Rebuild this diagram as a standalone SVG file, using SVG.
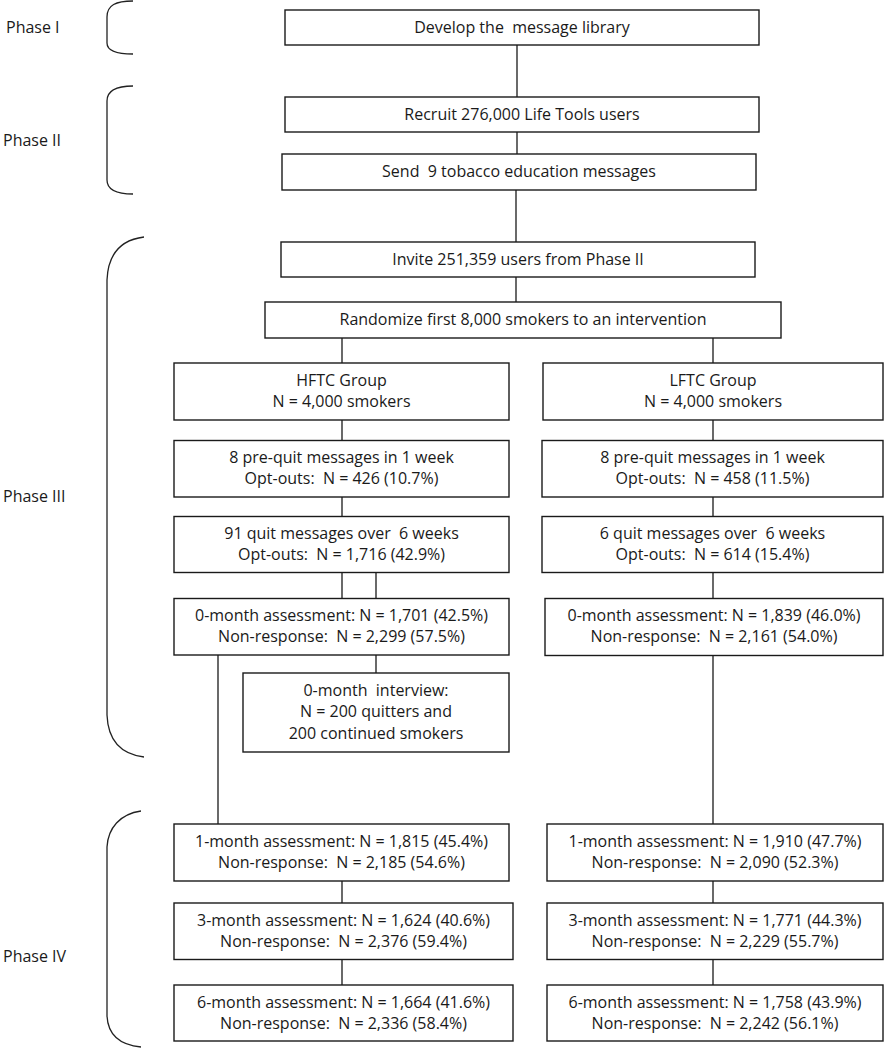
<svg xmlns="http://www.w3.org/2000/svg" width="884" height="1050" viewBox="0 0 884 1050">
<style>
.box{fill:#fff;stroke:#1a1a1a;stroke-width:1.4}
.ln{stroke:#1a1a1a;stroke-width:1.3;fill:none}
.br{stroke:#222;stroke-width:1.3;fill:none}
text{font-family:"Open Sans","Noto Sans","Liberation Sans",sans-serif;font-size:16px;fill:#1a1a1a;white-space:pre}
.c{text-anchor:middle}
</style>
<rect width="884" height="1050" fill="#fff"/>
<g id="brackets">
<path class="br" d="M133,1 C116,1 107,5 107,17 L107,43 C107,51 116,54 133,54"/>
<path class="br" d="M133,86 C116,86 107,91 107,101 L107,180 C107,189 116,194 133,194"/>
<path class="br" d="M144,237 C120,240 108,255 107,280 L107,715 C108,740 120,754 144,757"/>
<path class="br" d="M141,811 C120,814 108,828 107,847 L107,1016 C108,1035 120,1045 141,1047"/>
</g>
<g id="phase-labels">
<text x="6" y="33">Phase I</text>
<text x="3" y="146">Phase II</text>
<text x="3" y="502">Phase III</text>
<text x="3" y="962">Phase IV</text>
</g>
<g id="connectors">
<line class="ln" x1="517" y1="45" x2="517" y2="97"/>
<line class="ln" x1="517" y1="132" x2="517" y2="154"/>
<line class="ln" x1="516" y1="190" x2="516" y2="242"/>
<line class="ln" x1="516" y1="277" x2="516" y2="302"/>
<line class="ln" x1="342" y1="338" x2="342" y2="363"/>
<line class="ln" x1="713" y1="338" x2="713" y2="363"/>
<line class="ln" x1="342" y1="420" x2="342" y2="440.5"/>
<line class="ln" x1="713" y1="420" x2="713" y2="440.5"/>
<line class="ln" x1="342" y1="497" x2="342" y2="516.5"/>
<line class="ln" x1="713" y1="497" x2="713" y2="516.5"/>
<line class="ln" x1="342" y1="572.5" x2="342" y2="598.5"/>
<line class="ln" x1="376" y1="572.5" x2="376" y2="598.5"/>
<line class="ln" x1="713" y1="572.5" x2="713" y2="598.5"/>
<line class="ln" x1="376" y1="655" x2="376" y2="673"/>
<line class="ln" x1="218" y1="655" x2="218" y2="824"/>
<line class="ln" x1="713" y1="655.5" x2="713" y2="824"/>
<line class="ln" x1="342" y1="881" x2="342" y2="903"/>
<line class="ln" x1="713" y1="881" x2="713" y2="903"/>
<line class="ln" x1="342" y1="959.5" x2="342" y2="985"/>
<line class="ln" x1="713" y1="959.5" x2="713" y2="985"/>
</g>
<g id="n-develop"><rect class="box" x="285" y="10" width="474" height="35"/><text class="c" x="522" y="33">Develop the  message library</text></g>
<g id="n-recruit"><rect class="box" x="285" y="97" width="474" height="35"/><text class="c" x="522" y="120">Recruit 276,000 Life Tools users</text></g>
<g id="n-send"><rect class="box" x="282" y="154" width="474" height="36"/><text class="c" x="519" y="177">Send  9 tobacco education messages</text></g>
<g id="n-invite"><rect class="box" x="281" y="242" width="474" height="35"/><text class="c" x="518" y="265">Invite 251,359 users from Phase II</text></g>
<g id="n-randomize"><rect class="box" x="265" y="302" width="516" height="36"/><text class="c" x="523" y="325">Randomize first 8,000 smokers to an intervention</text></g>
<g id="n-hftc"><rect class="box" x="174" y="363" width="335" height="57"/><text class="c" x="341.5" y="386">HFTC Group</text><text class="c" x="341.5" y="407">N = 4,000 smokers</text></g>
<g id="n-lftc"><rect class="box" x="543" y="363" width="340" height="57"/><text class="c" x="713" y="386">LFTC Group</text><text class="c" x="713" y="407">N = 4,000 smokers</text></g>
<g id="n-prequit-h"><rect class="box" x="174" y="440.5" width="335" height="56.5"/><text class="c" x="341.5" y="463">8 pre-quit messages in 1 week</text><text class="c" x="341.5" y="484">Opt-outs:  N = 426 (10.7%)</text></g>
<g id="n-prequit-l"><rect class="box" x="542" y="440.5" width="341" height="56.5"/><text class="c" x="712.5" y="463">8 pre-quit messages in 1 week</text><text class="c" x="712.5" y="484">Opt-outs:  N = 458 (11.5%)</text></g>
<g id="n-quit-h"><rect class="box" x="174" y="516.5" width="335" height="56"/><text class="c" x="341.5" y="539">91 quit messages over  6 weeks</text><text class="c" x="341.5" y="560">Opt-outs:  N = 1,716 (42.9%)</text></g>
<g id="n-quit-l"><rect class="box" x="542" y="516.5" width="341" height="56"/><text class="c" x="712.5" y="539">6 quit messages over  6 weeks</text><text class="c" x="712.5" y="560">Opt-outs:  N = 614 (15.4%)</text></g>
<g id="n-m0-h"><rect class="box" x="174" y="598.5" width="335" height="56.5"/><text class="c" x="341.5" y="621">0-month assessment: N = 1,701 (42.5%)</text><text class="c" x="341.5" y="642">Non-response:  N = 2,299 (57.5%)</text></g>
<g id="n-m0-l"><rect class="box" x="545" y="598.5" width="338" height="57"/><text class="c" x="714" y="621">0-month assessment: N = 1,839 (46.0%)</text><text class="c" x="714" y="642">Non-response:  N = 2,161 (54.0%)</text></g>
<g id="n-interview"><rect class="box" x="243" y="673" width="266" height="79"/><text class="c" x="376" y="696">0-month  interview:</text><text class="c" x="376" y="717">N = 200 quitters and</text><text class="c" x="376" y="739">200 continued smokers</text></g>
<g id="n-m1-h"><rect class="box" x="174" y="824" width="335" height="57"/><text class="c" x="341.5" y="847">1-month assessment: N = 1,815 (45.4%)</text><text class="c" x="341.5" y="868">Non-response:  N = 2,185 (54.6%)</text></g>
<g id="n-m1-l"><rect class="box" x="547" y="824" width="336" height="57"/><text class="c" x="715" y="847">1-month assessment: N = 1,910 (47.7%)</text><text class="c" x="715" y="868">Non-response:  N = 2,090 (52.3%)</text></g>
<g id="n-m3-h"><rect class="box" x="174" y="903" width="339" height="56.5"/><text class="c" x="343.5" y="925.5">3-month assessment: N = 1,624 (40.6%)</text><text class="c" x="343.5" y="946.5">Non-response:  N = 2,376 (59.4%)</text></g>
<g id="n-m3-l"><rect class="box" x="547" y="903" width="336" height="56.5"/><text class="c" x="715" y="925.5">3-month assessment: N = 1,771 (44.3%)</text><text class="c" x="715" y="946.5">Non-response:  N = 2,229 (55.7%)</text></g>
<g id="n-m6-h"><rect class="box" x="174" y="985" width="339" height="56"/><text class="c" x="343.5" y="1007.5">6-month assessment: N = 1,664 (41.6%)</text><text class="c" x="343.5" y="1028.5">Non-response:  N = 2,336 (58.4%)</text></g>
<g id="n-m6-l"><rect class="box" x="547" y="985" width="336" height="56"/><text class="c" x="715" y="1007.5">6-month assessment: N = 1,758 (43.9%)</text><text class="c" x="715" y="1028.5">Non-response:  N = 2,242 (56.1%)</text></g>
</svg>
